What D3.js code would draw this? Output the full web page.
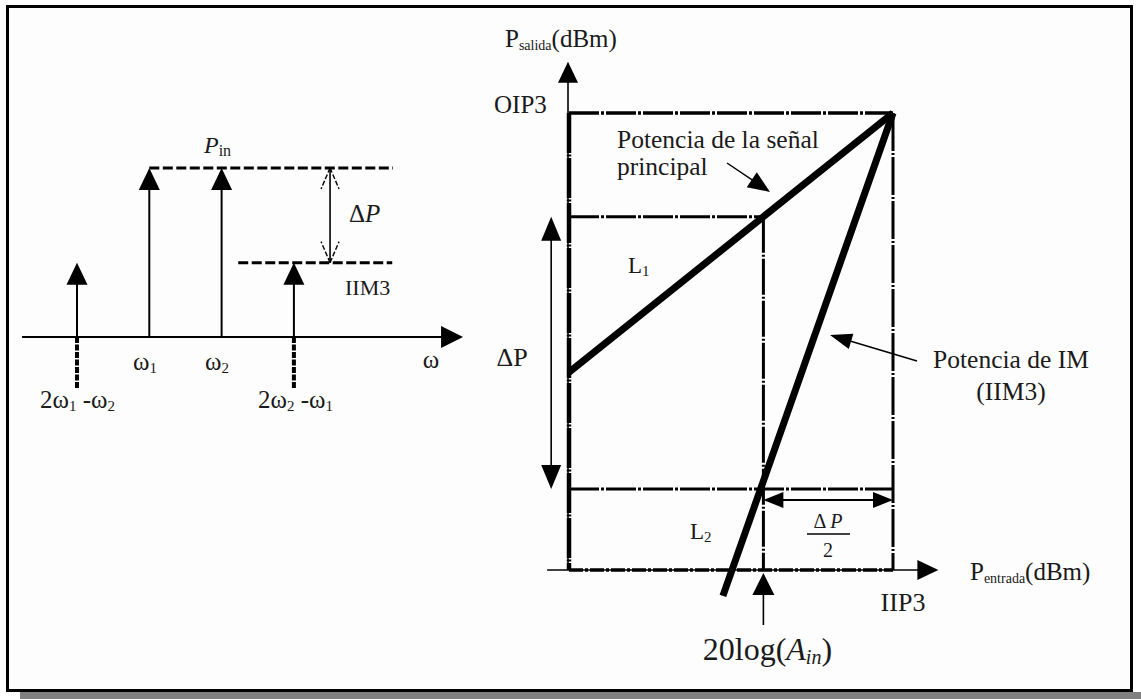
<!DOCTYPE html>
<html>
<head>
<meta charset="utf-8">
<script src="https://cdn.jsdelivr.net/npm/d3@7"></script>
<style>
  html, body { margin: 0; padding: 0; background: #fff; }
  svg { display: block; }
  text { font-family: 'Liberation Serif', 'Times New Roman', serif; fill: #1a1a1a; }
</style>
</head>
<body>
<svg id="fig" width="1141" height="699"></svg>
<script>
// ---- Two-tone spectrum (left) ----
const toneFreq  = [1, 2, 3, 4];          // 2ω1-ω2, ω1, ω2, 2ω2-ω1
const toneLevel = [0.44, 1, 1, 0.44];    // relative amplitude, P_in = 1
const pinLevel  = 1;
const iim3Level = 0.44;
const toneLabels = [
  [["2ω", ""], ["1", "sub"], [" -ω", ""], ["2", "sub"]],
  [["ω", ""], ["1", "sub"]],
  [["ω", ""], ["2", "sub"]],
  [["2ω", ""], ["2", "sub"], [" -ω", ""], ["1", "sub"]]
];

// ---- Intercept diagram (right), values in dBm ----
const pinRange   = [-30, 10];            // input power span of the box
const poutRange  = [-50.5, 20];          // output power span of the box
const iip3       = 10;
const oip3       = 20;
const ainDb      = -6;                    // 20log(A_in)
const l1Level    = 4;                     // fundamental output at A_in
const l2Level    = -38;                   // IM3 output at A_in
const mainLine   = [[-30, -20], [10, 20]];  // fundamental, slope 1
const imLine     = [[-11, -54.5], [10, 20]]; // third-order product

const svg = d3.select("#fig");
const black = "#000";

// frame + drop shadow
svg.append("rect").attr("x", 20).attr("y", 692).attr("width", 1121).attr("height", 7).attr("fill", "#808080");
svg.append("rect").attr("x", 7.5).attr("y", 6.5).attr("width", 1124).attr("height", 684)
  .attr("fill", "#fdfdfd").attr("stroke", black).attr("stroke-width", 3);

// filled triangular arrowhead with its tip at (x, y), pointing along angle (radians)
function head(g, x, y, ang, len, wid) {
  const bx = x - len * Math.cos(ang), by = y - len * Math.sin(ang);
  const nx = -Math.sin(ang) * wid / 2, ny = Math.cos(ang) * wid / 2;
  g.append("path")
    .attr("d", `M${x},${y}L${bx + nx},${by + ny}L${bx - nx},${by - ny}Z`)
    .attr("fill", black);
}
function line(g, x1, y1, x2, y2, w, dash) {
  const l = g.append("line").attr("x1", x1).attr("y1", y1).attr("x2", x2).attr("y2", y2)
    .attr("stroke", black).attr("stroke-width", w);
  if (dash) l.attr("stroke-dasharray", dash);
  return l;
}
// text built from [string, role] parts; role "sub" = subscript, "it" = italic
function rich(g, x, y, parts, size, anchor, subSize) {
  const t = g.append("text").attr("x", x).attr("y", y).attr("font-size", size)
    .attr("text-anchor", anchor || "start");
  const drop = size * 0.12;
  parts.forEach(([s, role], i) => {
    const sp = t.append("tspan").text(s);
    const isSub = role === "sub" || role === "subit";
    const prevSub = i > 0 && (parts[i - 1][1] === "sub" || parts[i - 1][1] === "subit");
    if (isSub) {
      sp.attr("font-size", subSize || size * 0.6);
      if (!prevSub) sp.attr("dy", drop);
      if (role === "subit") sp.attr("font-style", "italic");
    } else {
      if (prevSub) sp.attr("dy", -drop);
      if (role === "it") sp.attr("font-style", "italic");
    }
  });
  return t;
}

// ================= LEFT: spectrum =================
const L = svg.append("g");
const xF = d3.scaleLinear().domain([0, 6]).range([4.7, 438.5]);
const yA = d3.scaleLinear().domain([0, 1]).range([337, 168]);

// frequency axis
line(L, xF(0.24), yA(0), xF(6.34) - 20, yA(0), 2);
head(L, xF(6.34), yA(0), 0, 22, 22);

// reference levels
line(L, xF(2), yA(pinLevel), xF(5.37), yA(pinLevel), 3, "10,3.5");
line(L, xF(3.23), yA(iim3Level), xF(5.36), yA(iim3Level), 3, "10,3.5");

// tones
toneFreq.forEach((f, i) => {
  const x = xF(f), yt = yA(toneLevel[i]);
  line(L, x, yA(0), x, yt + 20, 2);
  head(L, x, yt, -Math.PI / 2, 22, 21);
  if (toneLevel[i] < 1) line(L, x, yA(0), x, yA(0) + 51, 4, "6,1.5");
});

// ΔP between the levels (open heads)
const xd = xF(4.5);
line(L, xd, yA(pinLevel), xd, yA(iim3Level), 1.6);
[[yA(pinLevel), 1], [yA(iim3Level), -1]].forEach(([y, s]) => {
  line(L, xd, y, xd - 9, y + s * 21, 1.4, "5,2");
  line(L, xd, y, xd + 9, y + s * 21, 1.4, "5,2");
});

rich(L, 204, 153, [["P", "it"], ["in", "sub"]], 24, "start", 16);
rich(L, 349, 222, [["Δ", ""], ["P", "it"]], 25);
L.append("text").attr("x", 345).attr("y", 295).attr("font-size", 22).text("IIM3");
L.append("text").attr("x", 431).attr("y", 368).attr("font-size", 25).attr("text-anchor", "middle").text("ω");
rich(L, 40, 408, toneLabels[0], 25, "start", 15);
rich(L, 133, 370, toneLabels[1], 25, "start", 15);
rich(L, 205, 370, toneLabels[2], 25, "start", 15);
rich(L, 258, 408, toneLabels[3], 25, "start", 15);

// ================= RIGHT: intercept diagram =================
const R = svg.append("g");
const xP = d3.scaleLinear().domain(pinRange).range([569, 893]);
const yP = d3.scaleLinear().domain(poutRange).range([570, 113]);
const dashA = "30,2,3,2";

// axes
const yAxisX = xP(pinRange[0]) - 1;
line(R, yAxisX, yP(poutRange[0]), yAxisX, yP(27.9) + 20, 1.6);
head(R, yAxisX, yP(27.9), -Math.PI / 2, 21, 20);
line(R, xP(-32.7), yP(poutRange[0]), xP(15.6) - 20, yP(poutRange[0]), 1.6);
head(R, xP(15.6), yP(poutRange[0]), 0, 21, 20);

// intercept box and guide lines
line(R, xP(pinRange[0]), yP(oip3), xP(iip3), yP(oip3), 3.5, dashA);
line(R, xP(iip3), yP(oip3), xP(iip3), yP(poutRange[0]), 3, "38,2,2,2");
line(R, xP(pinRange[0]), yP(oip3), xP(pinRange[0]), yP(poutRange[0]), 4.5, "40,1.5,2,1.5");
line(R, xP(pinRange[0]), yP(poutRange[0]), xP(iip3), yP(poutRange[0]), 3.5, "14,2,3,2");
line(R, xP(pinRange[0]), yP(l1Level), xP(ainDb), yP(l1Level), 3, dashA);
line(R, xP(ainDb), yP(l1Level), xP(ainDb), yP(poutRange[0]), 3, "36,2,2,2");
line(R, xP(pinRange[0]), yP(l2Level), xP(iip3), yP(l2Level), 3, dashA);

// response lines
const ln = d3.line().x(d => xP(d[0])).y(d => yP(d[1]));
R.append("path").attr("d", ln(mainLine)).attr("fill", "none").attr("stroke", black).attr("stroke-width", 7);
R.append("path").attr("d", ln(imLine)).attr("fill", "none").attr("stroke", black).attr("stroke-width", 7);

// ΔP vertical double arrow
const xdp = xP(-32.2);
line(R, xdp, yP(l1Level) + 20, xdp, yP(l2Level) - 20, 1.6);
head(R, xdp, yP(l1Level), -Math.PI / 2, 24, 20);
head(R, xdp, yP(l2Level), Math.PI / 2, 24, 20);
rich(R, 512, 366, [["ΔP", ""]], 26, "middle");

// ΔP/2 horizontal double arrow
const yHalf = yP(-39.7);
line(R, xP(ainDb) + 18, yHalf, xP(iip3) - 18, yHalf, 2);
head(R, xP(ainDb), yHalf, Math.PI, 20, 16);
head(R, xP(iip3), yHalf, 0, 20, 16);
rich(R, 828, 528, [["Δ ", ""], ["P", "it"]], 20, "middle");
line(R, 807, 534, 850, 534, 1.4);
R.append("text").attr("x", 828).attr("y", 557).attr("font-size", 20).attr("text-anchor", "middle").text("2");

// 20log(A_in) marker
const xa = xP(ainDb);
line(R, xa, yP(poutRange[0]) + 22, xa, 625, 1.6);
head(R, xa, yP(poutRange[0]) + 3, -Math.PI / 2, 22, 22);
rich(R, xa + 4, 660, [["20log(", ""], ["A", "it"], ["in", "subit"], [")", ""]], 32, "middle", 20);

// labels
rich(R, 505, 47, [["P", ""], ["salida", "sub"], ["(dBm)", ""]], 25, "start", 14);
rich(R, 970, 580, [["P", ""], ["entrada", "sub"], ["(dBm)", ""]], 25, "start", 14);
R.append("text").attr("x", 494).attr("y", 113).attr("font-size", 25).text("OIP3");
R.append("text").attr("x", 903).attr("y", 611).attr("font-size", 26).attr("text-anchor", "middle").text("IIP3");
rich(R, 628, 273, [["L", ""], ["1", "sub"]], 23, "start", 15);
rich(R, 690, 539, [["L", ""], ["2", "sub"]], 23, "start", 15);

R.append("text").attr("x", 617).attr("y", 148).attr("font-size", 25.5).text("Potencia de la señal");
R.append("text").attr("x", 617).attr("y", 175).attr("font-size", 25.5).text("principal");
const a1 = Math.atan2(192 - 163, 770 - 727);
line(R, 727, 163, 770 - 18 * Math.cos(a1), 192 - 18 * Math.sin(a1), 1.5);
head(R, 770, 192, a1, 22, 18);

R.append("text").attr("x", 1011).attr("y", 368).attr("font-size", 25.5).attr("text-anchor", "middle").text("Potencia de IM");
R.append("text").attr("x", 1011).attr("y", 400).attr("font-size", 25.5).attr("text-anchor", "middle").text("(IIM3)");
const a2 = Math.atan2(335 - 361, 830 - 917);
line(R, 917, 361, 830 - 20 * Math.cos(a2), 335 - 20 * Math.sin(a2), 1.5);
head(R, 830, 335, a2, 22, 16);
</script>
</body>
</html>
